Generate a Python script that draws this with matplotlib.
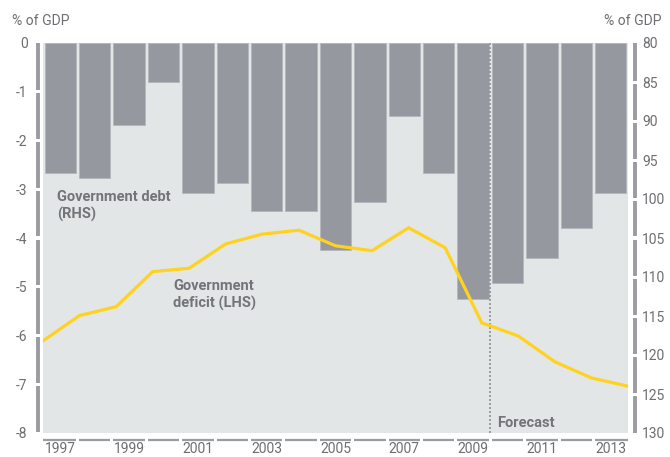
import matplotlib
matplotlib.use("Agg")
import matplotlib.pyplot as plt
from matplotlib.lines import Line2D

plt.rcParams["font.family"] = ["Roboto", "DejaVu Sans"]

years = [1997, 1998, 1999, 2000, 2001, 2002, 2003, 2004, 2005,
         2006, 2007, 2008, 2009, 2010, 2011, 2012, 2013]
# Government debt, % of GDP (right-hand scale)
debt = [96.7, 97.3, 90.5, 85.0, 99.2, 97.9, 101.6, 101.6, 106.5,
        100.4, 89.3, 96.7, 112.8, 110.8, 107.5, 103.7, 99.2]
# Government deficit, % of GDP (left-hand scale)
deficit = [-6.11, -5.59, -5.41, -4.69, -4.62, -4.12, -3.92, -3.84, -4.16,
           -4.26, -3.79, -4.20, -5.74, -6.01, -6.54, -6.87, -7.04]
year_labels = ["1997", "1999", "2001", "2003", "2005", "2007", "2009", "2011", "2013"]
left_ticks = [0, -1, -2, -3, -4, -5, -6, -7, -8]
right_ticks = [80, 85, 90, 95, 100, 105, 110, 115, 120, 125, 130]
forecast_start = 2010

BG = "#e3e6e7"
BAR = "#96989f"
BAR_EDGE = "#b3b6ba"
AXIS = "#9a9ca1"
TEXT = "#6d6e72"
LABEL = "#737479"
YELLOW = "#ffd21f"

W, H = 670, 457
fig = plt.figure(figsize=(W / 100, H / 100), dpi=100)
x0, x1, ytop, ybot = 43, 628, 43, 433
rect = [x0 / W, (H - ybot) / H, (x1 - x0) / W, (ybot - ytop) / H]

# Bars: debt on an inverted right-hand scale
axb = fig.add_axes(rect)
axb.set_facecolor(BG)
n = len(years)
idx = list(range(n))
axb.bar(idx, [d - 80 for d in debt], bottom=80, width=0.91,
        color=BAR, edgecolor=BAR_EDGE, linewidth=0.6, zorder=2)
axb.set_xlim(-0.5, n - 0.5)
axb.set_ylim(130, 80)
for s in axb.spines.values():
    s.set_visible(False)
axb.yaxis.tick_right()
axb.set_yticks(right_ticks)
axb.set_yticklabels([str(t) for t in right_ticks])
axb.tick_params(axis="y", length=0, pad=10, labelsize=10, labelcolor=TEXT)
tick_pos = [years.index(int(y)) for y in year_labels]
axb.set_xticks(tick_pos)
axb.set_xticklabels(year_labels)
axb.tick_params(axis="x", length=0, pad=6.5, labelsize=10, labelcolor=TEXT)

# Forecast divider between the last actual year and the first forecast year
fx = years.index(forecast_start) - 0.5
axb.axvline(fx, color="#8f9196", linestyle=(0, (1.2, 1.2)), linewidth=1.2, zorder=3)

# Line: deficit on the left-hand scale
axl = fig.add_axes(rect)
axl.patch.set_visible(False)
axl.plot(years, deficit, color=YELLOW, linewidth=2.3, solid_joinstyle="miter", zorder=4)
axl.set_xlim(years[0], years[-1])
axl.set_ylim(-8, 0)
for s in axl.spines.values():
    s.set_visible(False)
axl.set_xticks([])
axl.set_yticks(left_ticks)
axl.set_yticklabels([str(t) for t in left_ticks])
axl.tick_params(axis="y", length=0, pad=11, labelsize=10, labelcolor=TEXT)

# Segmented axis rules drawn in figure pixel coordinates
def seg(xa, ya, xb, yb, lw):
    fig.add_artist(Line2D([xa / W, xb / W], [1 - ya / H, 1 - yb / H],
                          color=AXIS, linewidth=lw, solid_capstyle="butt"))

gap = 1.5
step_l = (ybot - ytop) / 8
for k in range(8):
    ya = ytop + k * step_l + (gap if k > 0 else 0)
    yb = ytop + (k + 1) * step_l - gap
    seg(37.5, ya, 37.5, yb, 2.8)
step_r = (ybot - ytop) / 10
for k in range(10):
    ya = ytop + k * step_r + (gap if k > 0 else 0)
    yb = ytop + (k + 1) * step_r - (gap if k < 9 else 0)
    seg(634.5, ya, 634.5, yb, 2.8)
step_b = (x1 - x0) / n
for k in range(n):
    xa = x0 + k * step_b + (gap if k > 0 else 0)
    xb = x0 + (k + 1) * step_b - (gap if k < n - 1 else 0)
    seg(xa, 439.5, xb, 439.5, 1.6)

# Axis titles
fig.text(12 / W, 1 - 21 / H, "% of GDP", fontsize=10, color=TEXT, va="center", ha="left")
fig.text(661 / W, 1 - 21 / H, "% of GDP", fontsize=10, color=TEXT, va="center", ha="right")

# Series labels
fig.text(57 / W, 1 - 206 / H, "Government debt\n(RHS)", fontsize=10.5, fontweight="bold",
         color=LABEL, va="center", ha="left", linespacing=1.2)
fig.text(173 / W, 1 - 295 / H, "Government\ndeficit (LHS)", fontsize=10.5, fontweight="bold",
         color=LABEL, va="center", ha="left", linespacing=1.2)
fig.text(497 / W, 1 - 423 / H, "Forecast", fontsize=10.5, fontweight="bold",
         color=LABEL, va="center", ha="left")

fig.savefig("out.png", dpi=100, facecolor="white")
